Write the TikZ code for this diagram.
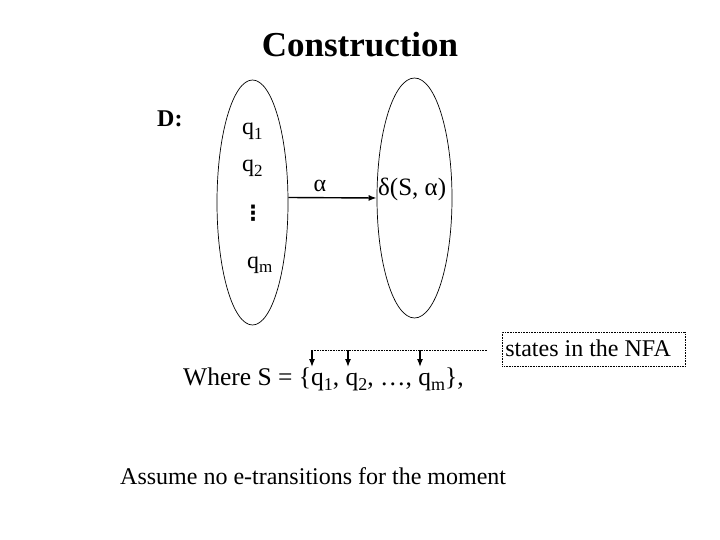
\documentclass[tikz,border=0pt]{standalone}
\usepackage{fontspec}
\setmainfont{Liberation Serif}
\newfontfamily\dejavu{DejaVu Sans}
\usetikzlibrary{shapes.geometric,arrows.meta}
\newcommand\qs[3][17]{#2\raisebox{-5pt}{\fontsize{#1}{#1}\selectfont #3}}
\tikzset{
  txt/.style={inner sep=0pt, font=\fontsize{24}{28}\selectfont},
  setell/.style={ellipse, draw, line width=0.7pt, inner sep=0pt},
  arr/.style={-{Latex[length=8pt,width=6pt]}, line width=1.4pt},
  darr/.style={-{Latex[length=8pt,width=6pt]}, line width=1.2pt},
  dline/.style={densely dotted, line width=0.6pt},
}
\begin{document}
\begin{tikzpicture}[x=1pt,y=-1pt]
\useasboundingbox (0,0) rectangle (720,540);
\node[inner sep=0pt, anchor=base, font=\bfseries\fontsize{35}{40}\selectfont] (title) at (360,57) {Construction};
\node[txt, anchor=base west, font=\bfseries\fontsize{24}{28}\selectfont] (D) at (157,127) {D:};
\node[setell, minimum width=71pt, minimum height=245pt] (L) at (252.5,202.5) {};
\node[setell, minimum width=75pt, minimum height=240pt] (R) at (414.5,198) {};
\node[txt, anchor=base west] (q1) at (242,135) {\qs{q}{1}};
\node[txt, anchor=base west] (q2) at (242,172) {\qs{q}{2}};
\node[inner sep=0pt, font=\dejavu\bfseries\fontsize{21}{21}\selectfont] (dots) at (253,213) {⋮};
\node[txt, anchor=base west] (qm) at (247,268) {\qs{q}{m}};
\draw[arr] ([yshift=5pt]L.east) -- (R.west);
\node[txt, anchor=base] (alpha) at (320,192) {α};
\node[txt, anchor=base west, font=\fontsize{25}{28}\selectfont] (delta) at (378,196) {δ(S, α)};
\node[txt, anchor=base west, draw, dline, inner xsep=3pt, inner ysep=4pt, text height=20pt, text depth=6pt, text width=177pt, align=flush left] (nfa) at (502,356) {states in the NFA};
\node[txt, anchor=base west, font=\fontsize{25.5}{28}\selectfont] (where) at (183,385) {Where S = \{\qs[18]{q}{1}, \qs[18]{q}{2}, …, \qs[18]{q}{m}\},};
\coordinate (b1) at (312,350);
\coordinate (b2) at (348,350);
\coordinate (b3) at (420,350);
\coordinate (b4) at (487,350);
\coordinate (t1) at (312,367);
\coordinate (t2) at (348,367);
\coordinate (t3) at (420,367);
\draw[dline] (b1) -- (b4);
\draw[darr] (b1) -- (t1);
\draw[darr] (b2) -- (t2);
\draw[darr] (b3) -- (t3);
\node[txt, anchor=base west] (assume) at (120,484) {Assume no e-transitions for the moment};
\end{tikzpicture}
\end{document}
